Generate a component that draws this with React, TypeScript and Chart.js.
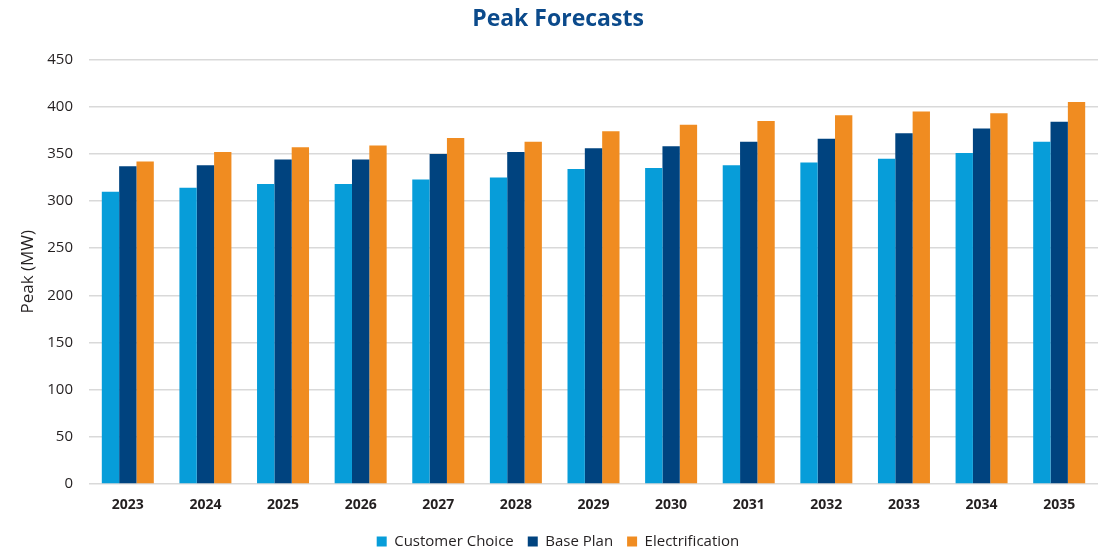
import React, { useEffect, useRef } from "react";
import { Chart, registerables } from "chart.js";

Chart.register(...registerables);

const categories = ["2023", "2024", "2025", "2026", "2027", "2028", "2029", "2030", "2031", "2032", "2033", "2034", "2035"];
const customerChoice = [310, 314, 318, 318, 323, 325, 334, 335, 338, 341, 345, 351, 363];
const basePlan = [337, 338, 344, 344, 350, 352, 356, 358, 363, 366, 372, 377, 384];
const electrification = [342, 352, 357, 359, 367, 363, 374, 381, 385, 391, 395, 393, 405];
const yTicks = [0, 50, 100, 150, 200, 250, 300, 350, 400, 450];

const FONT = "'Open Sans', 'Noto Sans', sans-serif";
const TEXT = "#231f20";

export default function App() {
  const ref = useRef<HTMLCanvasElement | null>(null);

  useEffect(() => {
    document.body.style.margin = "0";
    const ctx = ref.current!;
    const chart = new Chart(ctx, {
      type: "bar",
      data: {
        labels: categories,
        datasets: [
          { label: "Customer Choice", data: customerChoice, backgroundColor: "#079dd9" },
          { label: "Base Plan", data: basePlan, backgroundColor: "#00437f" },
          { label: "Electrification", data: electrification, backgroundColor: "#f08c21" },
        ],
      },
      options: {
        animation: false,
        responsive: false,
        maintainAspectRatio: false,
        layout: { padding: { left: 18, right: 0, top: 0, bottom: -7 } },
        datasets: { bar: { barPercentage: 1, categoryPercentage: 0.67, borderWidth: 0 } },
        plugins: {
          title: {
            display: true,
            text: "Peak Forecasts",
            color: "#0b4a8b",
            font: { family: FONT, size: 23, weight: "bold" },
            padding: { top: 6, bottom: 26 },
          },
          legend: {
            position: "bottom",
            labels: {
              boxWidth: 10,
              boxHeight: 10,
              color: TEXT,
              font: { family: FONT, size: 15 },
              padding: 14,
            },
          },
          tooltip: { enabled: false },
        },
        scales: {
          x: {
            grid: { display: false, drawTicks: false },
            border: { display: false },
            ticks: { color: TEXT, font: { family: FONT, size: 14, weight: "bold" }, padding: 13 },
            afterFit: (s: any) => {
              s.height = 36;
            },
          },
          y: {
            min: 0,
            max: 450,
            afterBuildTicks: (s: any) => {
              s.ticks = yTicks.map((v) => ({ value: v }));
            },
            afterFit: (s: any) => {
              s.width = 71;
            },
            grid: { color: "#d9d9d9", lineWidth: 1.5, drawTicks: false },
            border: { display: false },
            ticks: { color: TEXT, font: { family: FONT, size: 15 }, padding: 16 },
            title: { display: true, text: "Peak (MW)", color: TEXT, font: { family: FONT, size: 17 }, padding: { top: 0, bottom: 0 } },
          },
        },
      },
    });
    return () => chart.destroy();
  }, []);

  return (
    <div style={{ width: 1098, height: 552 }}>
      <canvas ref={ref} width={1098} height={552} style={{ display: "block" }} />
    </div>
  );
}
